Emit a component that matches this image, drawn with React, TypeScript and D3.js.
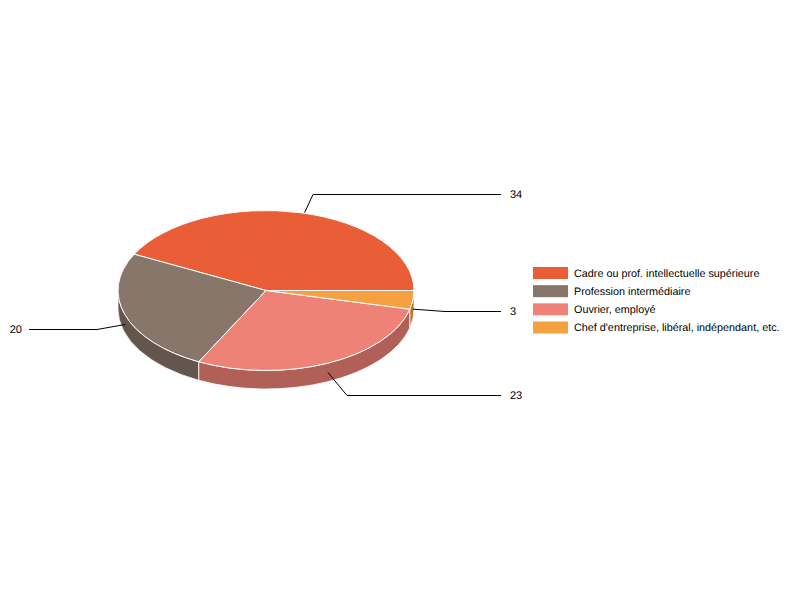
import React from 'react';
import * as d3 from 'd3';

const categories = [
  'Cadre ou prof. intellectuelle supérieure',
  'Profession intermédiaire',
  'Ouvrier, employé',
  "Chef d'entreprise, libéral, indépendant, etc.",
];
const values = [34, 20, 23, 3];
const colors = ['#ea5e37', '#89766a', '#ef8276', '#f5a142'];
const sideColors = ['#a84428', '#64564d', '#b16058', '#b3762f'];

const cx = 266;
const cy = 290.5;
const rx = 148;
const ry = 80;
const depth = 18.5;

// elbow and end of each leader line, label is placed after the end
const leaders = [
  { elbow: [313, 194.5], end: [501, 194.5], labelX: 510, anchor: 'start', onWall: false, dx: 4 },
  { elbow: [97, 329.5], end: [29, 329.5], labelX: 22, anchor: 'end', onWall: true, dx: 0 },
  { elbow: [347, 395.5], end: [501, 395.5], labelX: 510, anchor: 'start', onWall: true, dx: 0 },
  { elbow: [445, 311.5], end: [501, 311.5], labelX: 510, anchor: 'start', onWall: true, dx: 0 },
];

const FONT = '"Liberation Sans", Arial, sans-serif';

// d3.pie angles: 0 = up, clockwise. The chart starts at 3 o'clock and runs counter-clockwise
const pie = d3
  .pie<number>()
  .sort(null)
  .startAngle(Math.PI / 2)
  .endAngle(Math.PI / 2 - 2 * Math.PI);
const arcs = pie(values);

const arcGen = d3.arc<d3.PieArcDatum<number>>().innerRadius(0).outerRadius(rx);

const pointAt = (a: number, dy = 0): [number, number] => [
  cx + rx * Math.sin(a),
  cy - ry * Math.cos(a) + dy,
];

// outer wall of a slice, only the part facing the viewer (bottom half of the ellipse)
const wallPath = (start: number, end: number) => {
  const lo = Math.max(Math.min(start, end), -1.5 * Math.PI);
  const hi = Math.min(Math.max(start, end), -0.5 * Math.PI);
  const lo2 = Math.max(Math.min(start, end), Math.PI / 2);
  const hi2 = Math.min(Math.max(start, end), 1.5 * Math.PI);
  let a0 = lo;
  let a1 = hi;
  if (hi2 > lo2) {
    a0 = lo2;
    a1 = hi2;
  }
  if (a1 <= a0) return null;
  const p0 = pointAt(a0);
  const p1 = pointAt(a1);
  const q0 = pointAt(a0, depth);
  const q1 = pointAt(a1, depth);
  return (
    `M${p0}A${rx},${ry} 0 0 1 ${p1}L${q1}A${rx},${ry} 0 0 0 ${q0}Z`
  );
};

const legendY = d3
  .scalePoint<string>()
  .domain(categories)
  .range([273, 327.5]);

export default function App() {
  return (
    <svg
      width={800}
      height={600}
      style={{ position: 'absolute', left: 0, top: 0, background: '#fff' }}
      textRendering="geometricPrecision"
    >
      {/* walls */}
      {arcs.map((d, i) => {
        const p = wallPath(d.startAngle, d.endAngle);
        return p ? (
          <path key={i} d={p} fill={sideColors[i]} stroke="#fff" strokeWidth={0.8} />
        ) : null;
      })}

      {/* top of the pie */}
      <g transform={`translate(${cx},${cy}) scale(1,${ry / rx})`}>
        {arcs.map((d, i) => (
          <path
            key={i}
            d={arcGen(d) as string}
            fill={colors[i]}
            stroke="#fff"
            strokeWidth={1}
            vectorEffect="non-scaling-stroke"
            strokeLinejoin="round"
          />
        ))}
      </g>

      {/* leader lines */}
      {arcs.map((d, i) => {
        const l = leaders[i];
        const mid = (d.startAngle + d.endAngle) / 2;
        const p = pointAt(mid, l.onWall ? depth / 2 : 0);
        const start: [number, number] = [p[0] + l.dx, p[1]];
        return (
          <g key={i}>
            <path
              d={d3.line()([start, l.elbow as [number, number], l.end as [number, number]]) as string}
              fill="none"
              stroke="#000"
              strokeWidth={1}
            />
            <text
              x={l.labelX}
              y={l.end[1] + 3.5}
              textAnchor={l.anchor as 'start' | 'end'}
              fontFamily={FONT}
              fontSize={11}
              fill="#000"
            >
              {values[i]}
            </text>
          </g>
        );
      })}

      {/* legend */}
      {categories.map((c, i) => (
        <g key={c}>
          <rect x={533} y={(legendY(c) as number) - 6} width={35} height={12} fill={colors[i]} />
          <text
            x={574}
            y={(legendY(c) as number) + 3.5}
            fontFamily={FONT}
            fontSize={10.8}
            fill="#000"
          >
            {c}
          </text>
        </g>
      ))}
    </svg>
  );
}
